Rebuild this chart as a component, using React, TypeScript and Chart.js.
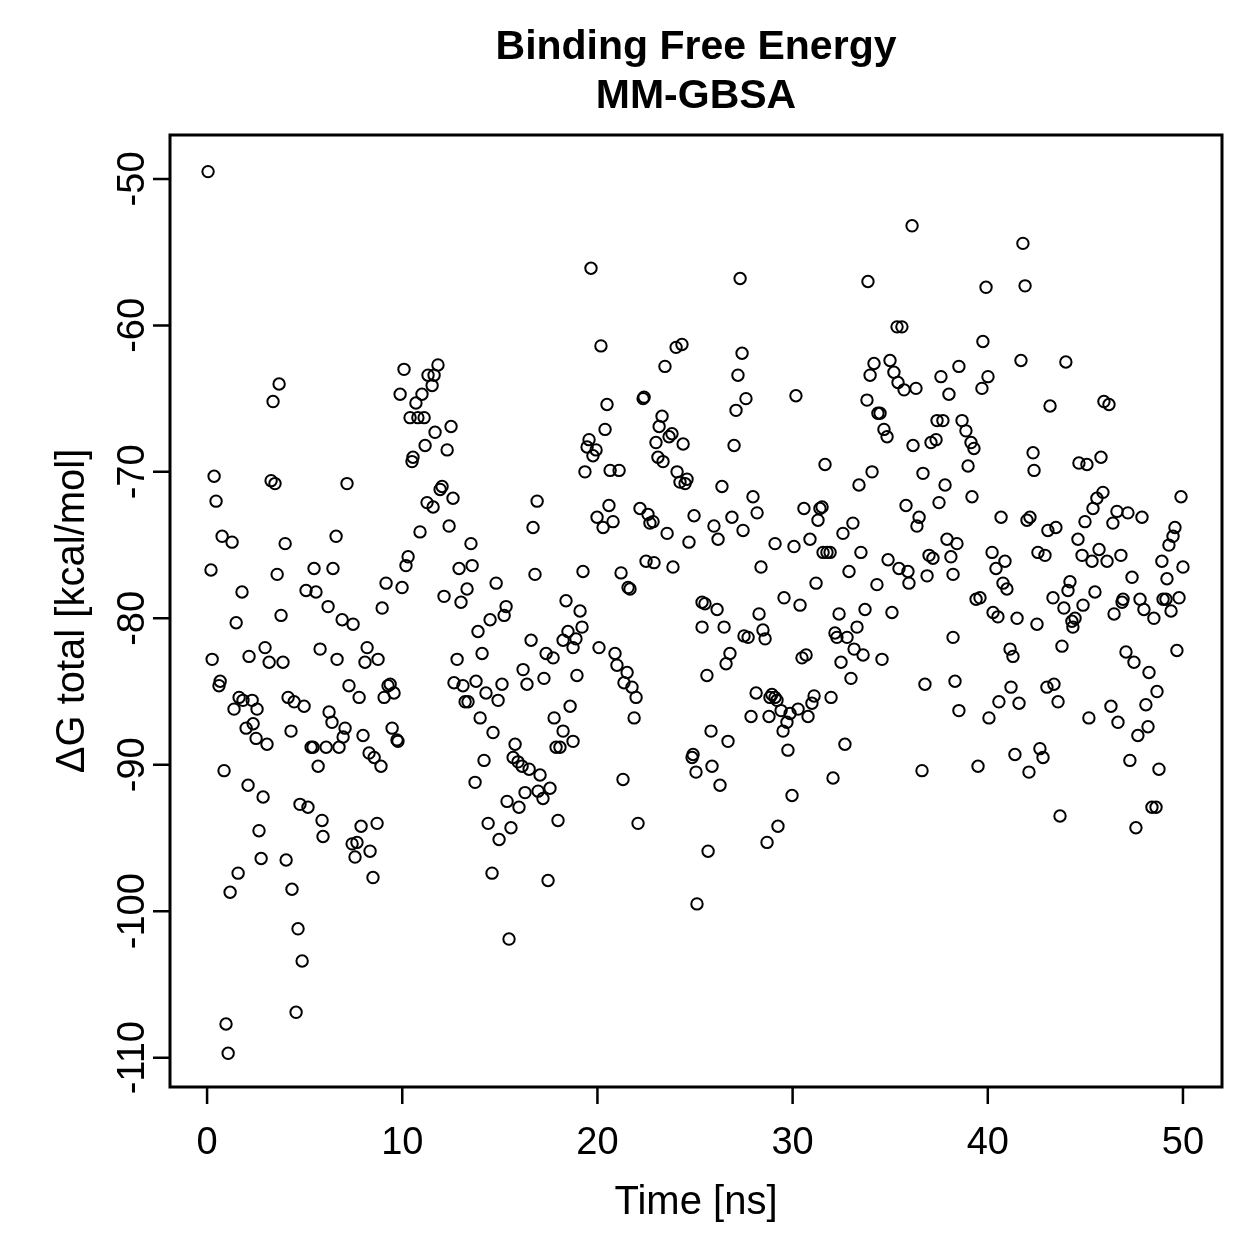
import React, { useEffect, useRef } from "react";
import { Chart, registerables } from "chart.js";

Chart.register(...registerables);

// [time (ns), ΔG total (kcal/mol)] samples, grouped by time span
const samples0to12: number[][] = [
  [0.05,-49.5],[0.2,-76.7],[0.26,-82.8],[0.36,-70.3],[0.46,-72.0],[0.61,-84.6],[0.67,-84.3],[0.77,-74.4],[0.87,-90.4],[0.97,-107.7],
  [1.08,-109.7],[1.18,-98.7],[1.28,-74.8],[1.38,-86.2],[1.49,-80.3],[1.59,-97.4],[1.64,-85.4],[1.79,-78.2],[1.84,-85.6],[2.0,-87.5],
  [2.1,-91.4],[2.15,-82.6],[2.31,-85.6],[2.36,-87.2],[2.51,-88.2],[2.56,-86.2],[2.66,-94.5],[2.77,-96.4],[2.87,-92.2],[2.97,-82.0],
  [3.07,-88.6],[3.18,-83.0],[3.28,-70.6],[3.38,-65.2],[3.48,-70.8],[3.59,-77.0],[3.69,-64.0],[3.79,-79.8],[3.89,-83.0],[4.0,-74.9],
  [4.05,-96.5],[4.15,-85.4],[4.3,-87.7],[4.35,-98.5],[4.46,-85.7],[4.56,-106.9],[4.66,-101.2],[4.76,-92.7],[4.87,-103.4],[4.97,-86.0],
  [5.07,-78.1],[5.17,-92.9],[5.33,-88.8],[5.43,-88.8],[5.48,-76.6],[5.58,-78.2],[5.69,-90.1],[5.79,-82.1],[5.89,-93.8],[5.94,-94.9],
  [6.1,-88.8],[6.2,-79.2],[6.25,-86.4],[6.4,-87.1],[6.45,-76.6],[6.61,-74.4],[6.66,-82.8],[6.76,-88.8],[6.92,-80.1],[6.97,-88.1],
  [7.07,-87.5],[7.17,-70.8],[7.27,-84.6],[7.43,-95.4],[7.48,-80.4],[7.58,-96.3],[7.68,-95.3],[7.79,-85.4],[7.89,-94.2],[7.99,-88.0],
  [8.09,-83.0],[8.2,-82.0],[8.3,-89.2],[8.35,-95.9],[8.5,-97.7],[8.56,-89.5],[8.71,-94.0],[8.76,-82.8],[8.91,-90.1],[8.97,-79.3],
  [9.07,-85.4],[9.17,-77.6],[9.27,-84.6],[9.38,-84.5],[9.48,-87.5],[9.58,-85.1],[9.73,-88.3],[9.78,-88.4],[9.89,-64.7],[9.99,-77.9],
  [10.09,-63.0],[10.19,-76.4],[10.3,-75.8],[10.4,-66.3],[10.5,-69.3],[10.55,-69.0],[10.7,-65.3],[10.8,-66.3],[10.91,-74.1],[11.01,-64.7],
  [11.12,-66.3],[11.17,-68.2],[11.27,-72.1],[11.32,-63.4],[11.53,-64.1],[11.58,-72.4],[11.63,-63.4],[11.68,-67.3],[11.83,-62.7]
];

const samples12to25: number[][] = [
  [12.5,-66.9],[12.3,-68.5],[19.67,-56.1],[20.18,-61.4],[23.46,-62.8],[24.03,-61.5],[24.33,-61.3],[20.49,-65.4],[22.34,-65.0],[22.39,-64.9],
  [20.39,-67.1],[19.57,-67.8],[19.47,-68.3],[19.93,-68.5],[19.77,-68.9],[23.31,-66.2],[23.16,-66.9],[23.82,-67.4],[23.67,-67.6],[24.39,-68.1],
  [23.0,-68.0],[23.1,-69.0],[23.36,-69.3],
  [12.04,-71.0],[11.94,-71.2],[12.6,-71.8],[12.4,-73.7],[13.52,-74.9],[12.91,-76.6],[13.58,-76.4],[14.81,-77.6],[13.32,-78.0],[12.14,-78.5],
  [13.01,-78.9],[16.91,-72.0],[16.7,-73.8],[16.8,-77.0],[19.26,-76.8],[21.21,-76.9],[21.57,-77.9],[21.67,-78.0],[15.32,-79.2],[15.22,-79.8],
  [14.5,-80.1],[13.88,-80.9],[18.39,-78.8],[19.11,-79.5],[19.21,-80.6],[18.49,-80.9],[18.24,-81.5],[18.9,-81.4],[18.75,-82.0],[16.6,-81.5],
  [17.37,-82.4],[17.73,-82.7],[14.09,-82.4],[12.81,-82.8],[20.08,-82.0],[20.9,-82.4],[21.0,-83.2],[21.52,-83.7],[21.36,-84.4],[21.77,-84.7],
  [21.98,-85.4],[21.88,-86.8],[18.95,-83.9],[16.19,-83.5],[17.26,-84.1],[16.39,-84.5],[12.65,-84.4],[13.11,-84.6],[13.78,-84.3],[15.11,-84.5],
  [14.29,-85.1],[14.91,-85.6],[13.22,-85.7],[13.37,-85.7],[13.99,-86.8],[14.65,-87.8],[14.19,-89.7],[15.78,-88.6],[15.68,-89.5],[15.93,-89.8],
  [16.14,-90.1],[16.5,-90.3],[17.06,-90.7],[18.6,-86.0],[17.78,-86.8],[18.24,-87.7],[18.75,-88.4],[17.88,-88.8],[18.08,-88.8],[21.31,-91.0],
  [13.73,-91.2],[19.36,-70.0],[20.65,-69.9],[21.11,-69.9],[24.08,-70.0],[24.23,-70.7],[24.59,-70.5],[24.49,-70.8],[20.59,-72.3],[19.98,-73.1],
  [20.29,-73.8],[20.8,-73.4],[22.18,-72.5],[22.59,-72.9],[22.69,-73.5],[22.85,-73.4],[23.57,-74.2],[24.95,-73.0],[24.69,-74.8],[22.49,-76.1],
  [22.9,-76.2],[23.87,-76.5],[25.36,-78.9],[25.51,-79.0],[25.36,-80.6],[24.85,-89.5],[24.9,-89.3],[25.05,-90.5],
  [16.29,-91.9],[15.37,-92.5],[15.98,-92.9],[16.96,-91.8],[17.21,-92.3],[17.57,-91.6],[14.4,-94.0],[15.57,-94.3],[14.96,-95.1],[17.98,-93.8],
  [22.08,-94.0],[14.6,-97.4],[17.47,-97.9],[15.47,-101.9],[25.1,-99.5]
];

const samples25to38: number[][] = [
  [36.12,-53.2],[27.31,-56.8],[33.86,-57.0],[35.35,-60.1],[35.6,-60.1],[27.41,-61.9],[27.2,-63.4],[27.61,-65.0],[27.1,-65.8],[27.0,-68.2],
  [30.17,-64.8],[34.17,-62.6],[34.99,-62.4],[33.97,-63.4],[35.19,-63.2],[35.4,-63.9],[35.71,-64.4],[36.32,-64.3],[33.81,-65.1],[34.37,-66.0],
  [34.48,-66.0],[34.68,-67.1],[34.84,-67.6],[36.17,-68.2],[37.09,-68.0],[37.35,-67.8],[37.4,-66.5],[37.7,-66.5],[37.6,-63.5],[38.01,-64.7],
  [38.52,-62.8],[38.68,-66.5],[31.66,-69.5],
  [34.07,-70.0],[33.4,-70.9],[36.68,-70.1],[37.81,-70.9],[26.38,-71.0],[27.97,-71.7],[28.18,-72.8],[30.58,-72.5],[31.51,-72.4],[31.4,-72.5],
  [31.3,-73.3],[33.09,-73.5],[32.58,-74.2],[35.81,-72.3],[37.5,-72.1],[36.48,-73.1],[36.37,-73.7],[25.97,-73.7],[26.89,-73.1],[27.46,-74.0],
  [26.18,-74.6],[29.1,-74.9],[30.07,-75.1],[30.89,-74.6],[37.91,-74.6],[38.42,-74.9],[31.56,-75.5],[31.76,-75.5],[31.92,-75.5],[33.5,-75.5],
  [32.89,-76.8],[34.89,-76.0],[35.45,-76.6],[35.91,-76.8],[35.96,-77.6],[36.89,-77.1],[36.99,-75.7],[37.19,-75.9],[38.11,-75.8],[38.22,-77.0],
  [28.38,-76.5],[31.2,-77.6],[34.32,-77.7],[26.13,-79.4],[26.49,-80.6],[28.28,-79.7],[29.56,-78.6],[30.38,-79.1],[32.38,-79.7],[33.71,-79.4],
  [35.09,-79.6],[33.3,-80.6],[32.17,-81.0],[32.27,-81.3],[32.79,-81.3],[33.15,-82.1],[33.61,-82.5],[34.58,-82.8],[32.48,-83.0],[32.99,-84.1],
  [27.51,-81.2],[27.72,-81.3],[28.48,-80.8],[28.59,-81.4],[26.79,-82.4],[26.59,-83.1],[25.61,-83.9],[30.48,-82.7],[30.69,-82.5],[38.22,-81.3],
  [36.78,-84.5],[38.32,-84.3],[28.13,-85.1],[28.94,-85.2],[29.1,-85.4],[28.84,-85.4],[29.2,-85.6],[31.1,-85.3],[30.99,-85.8],[31.97,-85.4],
  [27.87,-86.7],[28.79,-86.7],[29.41,-86.3],[29.87,-86.5],[30.28,-86.2],[30.79,-86.7],[29.71,-87.1],[29.51,-87.7],[25.82,-87.7],[26.69,-88.4],
  [29.76,-89.0],[32.68,-88.6],[25.87,-90.1],[26.28,-91.4],[32.07,-90.9],[36.63,-90.4],[38.52,-86.3],
  [29.97,-92.1],[29.25,-94.2],[28.69,-95.3],[25.67,-95.9]
];

const samples38to50: number[][] = [
  [41.8,-54.4],[41.91,-57.3],[39.91,-57.4],[39.75,-61.1],[41.7,-62.4],[44.0,-62.5],[40.01,-63.5],[39.7,-64.3],[43.19,-65.5],[45.95,-65.2],
  [46.21,-65.4],[38.88,-67.2],[39.14,-68.0],[39.29,-68.4],[42.32,-68.7],[45.8,-69.0],[44.67,-69.4],[45.08,-69.5],[38.99,-69.6],[42.37,-69.9],
  [39.19,-71.7],[40.68,-73.1],[42.01,-73.3],[42.16,-73.1],[43.08,-74.0],[43.49,-73.8],[45.9,-71.4],[45.59,-71.8],[45.39,-72.5],[44.98,-73.4],
  [46.62,-72.7],[47.18,-72.8],[47.9,-73.1],[46.41,-73.5],[49.9,-71.7],[49.59,-73.8],[49.49,-74.4],[49.28,-75.0],[50.0,-76.5],[48.92,-76.1],
  [49.18,-77.3],[44.62,-74.6],[45.7,-75.3],[44.83,-75.7],[45.34,-76.1],[46.11,-76.1],[46.82,-75.7],[47.39,-77.2],[44.21,-77.5],[44.11,-78.1],
  [43.34,-78.6],[43.9,-79.3],[44.88,-79.1],[45.49,-78.2],[46.93,-78.7],[46.88,-78.9],[46.47,-79.7],[47.8,-78.7],[48.0,-79.4],[48.51,-80.0],
  [48.98,-78.7],[49.13,-78.7],[49.39,-79.5],[49.8,-78.6],[40.22,-75.5],[40.88,-76.1],[40.42,-76.6],[40.78,-77.6],[40.98,-78.0],[42.57,-75.5],
  [42.93,-75.7],[39.4,-78.7],[39.6,-78.6],[40.27,-79.6],[40.52,-79.9],[41.5,-80.0],[42.52,-80.4],[44.31,-80.2],[44.47,-80.0],[44.36,-80.6],
  [43.8,-81.9],[41.14,-82.1],[41.29,-82.6],[47.08,-82.3],[47.49,-83.0],[48.26,-83.7],[49.69,-82.2],[48.67,-85.0],[48.1,-85.9],[41.19,-84.7],
  [40.57,-85.7],[41.6,-85.8],[43.03,-84.7],[43.39,-84.5],[43.6,-85.7],[40.06,-86.8],[46.31,-86.0],[46.67,-87.1],[45.18,-86.8],[48.21,-87.4],
  [47.69,-88.0],[42.67,-88.9],[42.83,-89.5],[41.39,-89.3],[39.5,-90.1],[42.11,-90.5],[47.28,-89.7],[48.77,-90.3],
  [43.7,-93.5],[48.41,-92.9],[48.62,-92.9],[47.59,-94.3]
];

const xTicks = [0, 10, 20, 30, 40, 50];
const yTicks = [-50, -60, -70, -80, -90, -100, -110];
const titleLines = ["Binding Free Energy", "MM-GBSA"];
const xTitle = "Time [ns]";
const yTitle = "\u0394G total [kcal/mol]";

const FONT = '"Liberation Sans", Arial, Helvetica, sans-serif';

const rFrame = {
  id: "rFrame",
  afterDraw(chart: any) {
    const { ctx, chartArea: a } = chart;
    const xs = chart.scales.x;
    const ys = chart.scales.y;
    ctx.save();
    ctx.strokeStyle = "#000";
    ctx.fillStyle = "#000";
    ctx.lineWidth = 3;
    ctx.strokeRect(a.left, a.top, a.right - a.left, a.bottom - a.top);

    ctx.lineWidth = 2.5;
    ctx.beginPath();
    for (const t of xTicks) {
      const px = xs.getPixelForValue(t);
      ctx.moveTo(px, a.bottom);
      ctx.lineTo(px, a.bottom + 17);
    }
    for (const t of yTicks) {
      const py = ys.getPixelForValue(t);
      ctx.moveTo(a.left, py);
      ctx.lineTo(a.left - 17, py);
    }
    ctx.stroke();

    ctx.textBaseline = "alphabetic";
    ctx.textAlign = "center";
    ctx.font = `38px ${FONT}`;
    for (const t of xTicks) {
      ctx.fillText(String(t), xs.getPixelForValue(t), 1154);
    }
    for (const t of yTicks) {
      ctx.save();
      ctx.translate(144, ys.getPixelForValue(t));
      ctx.rotate(-Math.PI / 2);
      ctx.fillText(String(t), 0, 0);
      ctx.restore();
    }

    const cx = (a.left + a.right) / 2;
    const cy = (a.top + a.bottom) / 2;
    ctx.font = `40px ${FONT}`;
    ctx.fillText(xTitle, cx, 1214);
    ctx.save();
    ctx.translate(84, cy);
    ctx.rotate(-Math.PI / 2);
    ctx.fillText(yTitle, 0, 0);
    ctx.restore();

    ctx.font = `bold 41px ${FONT}`;
    ctx.fillText(titleLines[0], cx, 59);
    ctx.fillText(titleLines[1], cx, 108);
    ctx.restore();
  },
};

export default function App() {
  const canvasRef = useRef<HTMLCanvasElement | null>(null);

  useEffect(() => {
    const canvas = canvasRef.current;
    if (!canvas) return;
    const all = [...samples0to12, ...samples12to25, ...samples25to38, ...samples38to50];
    const chart = new Chart(canvas, {
      type: "scatter",
      data: {
        datasets: [
          {
            data: all.map(([t, g]) => ({ x: t, y: g })),
            pointStyle: "circle",
            pointRadius: 5.7,
            pointBorderWidth: 2,
            borderColor: "#000",
            backgroundColor: "rgba(0,0,0,0)",
            pointHoverRadius: 5.7,
          },
        ],
      },
      options: {
        animation: false,
        responsive: false,
        devicePixelRatio: 1,
        events: [],
        layout: { autoPadding: false, padding: { left: 170, top: 135, right: 37, bottom: 172 } },
        plugins: { legend: { display: false }, tooltip: { enabled: false }, title: { display: false } },
        scales: {
          x: { type: "linear", min: -1.9, max: 52.0, display: false },
          y: { type: "linear", min: -112.0, max: -47.0, display: false },
        },
      },
      plugins: [rFrame],
    });
    return () => chart.destroy();
  }, []);

  return (
    <div style={{ position: "absolute", left: 0, top: 0, width: 1259, height: 1259, background: "#fff" }}>
      <canvas ref={canvasRef} width={1259} height={1259} style={{ display: "block", width: 1259, height: 1259 }} />
    </div>
  );
}
